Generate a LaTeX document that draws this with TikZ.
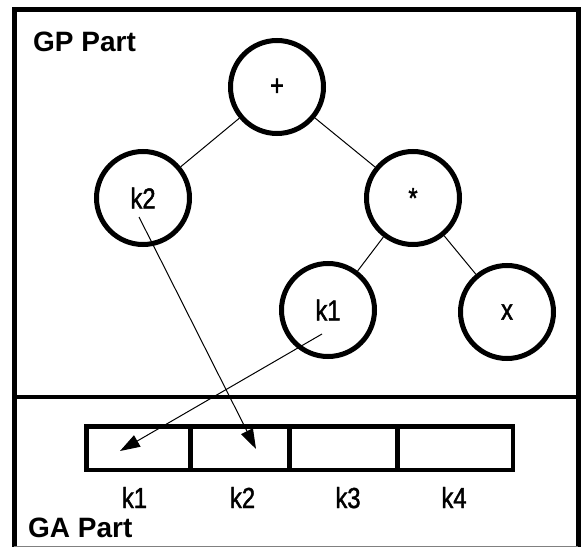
\documentclass[tikz,border=0pt]{standalone}
\usepackage{fontspec}
\setmainfont{Liberation Sans}
\newfontfamily\narrowf{Liberation Sans}[FakeStretch=0.82,FakeBold=1.5]
\usetikzlibrary{arrows.meta}
\tikzset{
  treenode/.style={circle, draw, line width=5pt, minimum size=93pt, inner sep=0pt, font=\narrowf\fontsize{29}{32}\selectfont},
  edge/.style={line width=1pt},
  ptr/.style={line width=1pt, -{Triangle[length=20pt,width=13pt]}},
  cell/.style={rectangle, draw, line width=4.5pt, minimum height=43.5pt, inner sep=0pt},
  lbl/.style={anchor=base, inner sep=0pt, font=\narrowf\fontsize{29}{32}\selectfont},
  title/.style={anchor=base west, inner sep=0pt, font=\bfseries\fontsize{28}{32}\selectfont},
  frame/.style={line width=5pt}
}
\begin{document}
\begin{tikzpicture}[x=1pt,y=-1pt]
\useasboundingbox (0,0) rectangle (586,548);
% frame
\draw[frame] (14,546.5) -- (14,10) -- (578,10) -- (578,546.5);
\draw[gray, line width=1pt] (14,546.5) -- (578,546.5);
\draw[line width=4.5pt] (12,397) -- (580,397);
% titles
\node[title] (gp) at (33,52) {GP Part};
\node[title] (ga) at (28,537) {GA Part};
% tree
\node[treenode] (plus) at (277,87) {+};
\node[treenode] (k2) at (143,198) {k2};
\node[treenode] (mul) at (413,198) {*};
\node[treenode] (k1) at (328,310) {k1};
\node[treenode] (x) at (507,312) {x};
\draw[edge] (plus) -- (k2);
\draw[edge] (plus) -- (mul);
\draw[edge] (mul) -- (k1);
\draw[edge] (mul) -- (x);
% array
\node[cell, minimum width=104pt] (c1) at (138.5,448.25) {};
\node[cell, minimum width=99pt] (c2) at (240,448.25) {};
\node[cell, minimum width=108pt] (c3) at (343.5,448.25) {};
\node[cell, minimum width=115.5pt] (c4) at (455.25,448.25) {};
\node[lbl] (l1) at (134.5,508) {k1};
\node[lbl] (l2) at (242.5,508) {k2};
\node[lbl] (l3) at (348,508) {k3};
\node[lbl] (l4) at (454,508) {k4};
% pointers
\coordinate (s2) at (139,217);
\coordinate (t2) at (256,449);
\coordinate (s1) at (322,334);
\coordinate (t1) at (120,451);
\draw[ptr] (s2) -- (t2);
\draw[ptr] (s1) -- (t1);
\end{tikzpicture}
\end{document}
